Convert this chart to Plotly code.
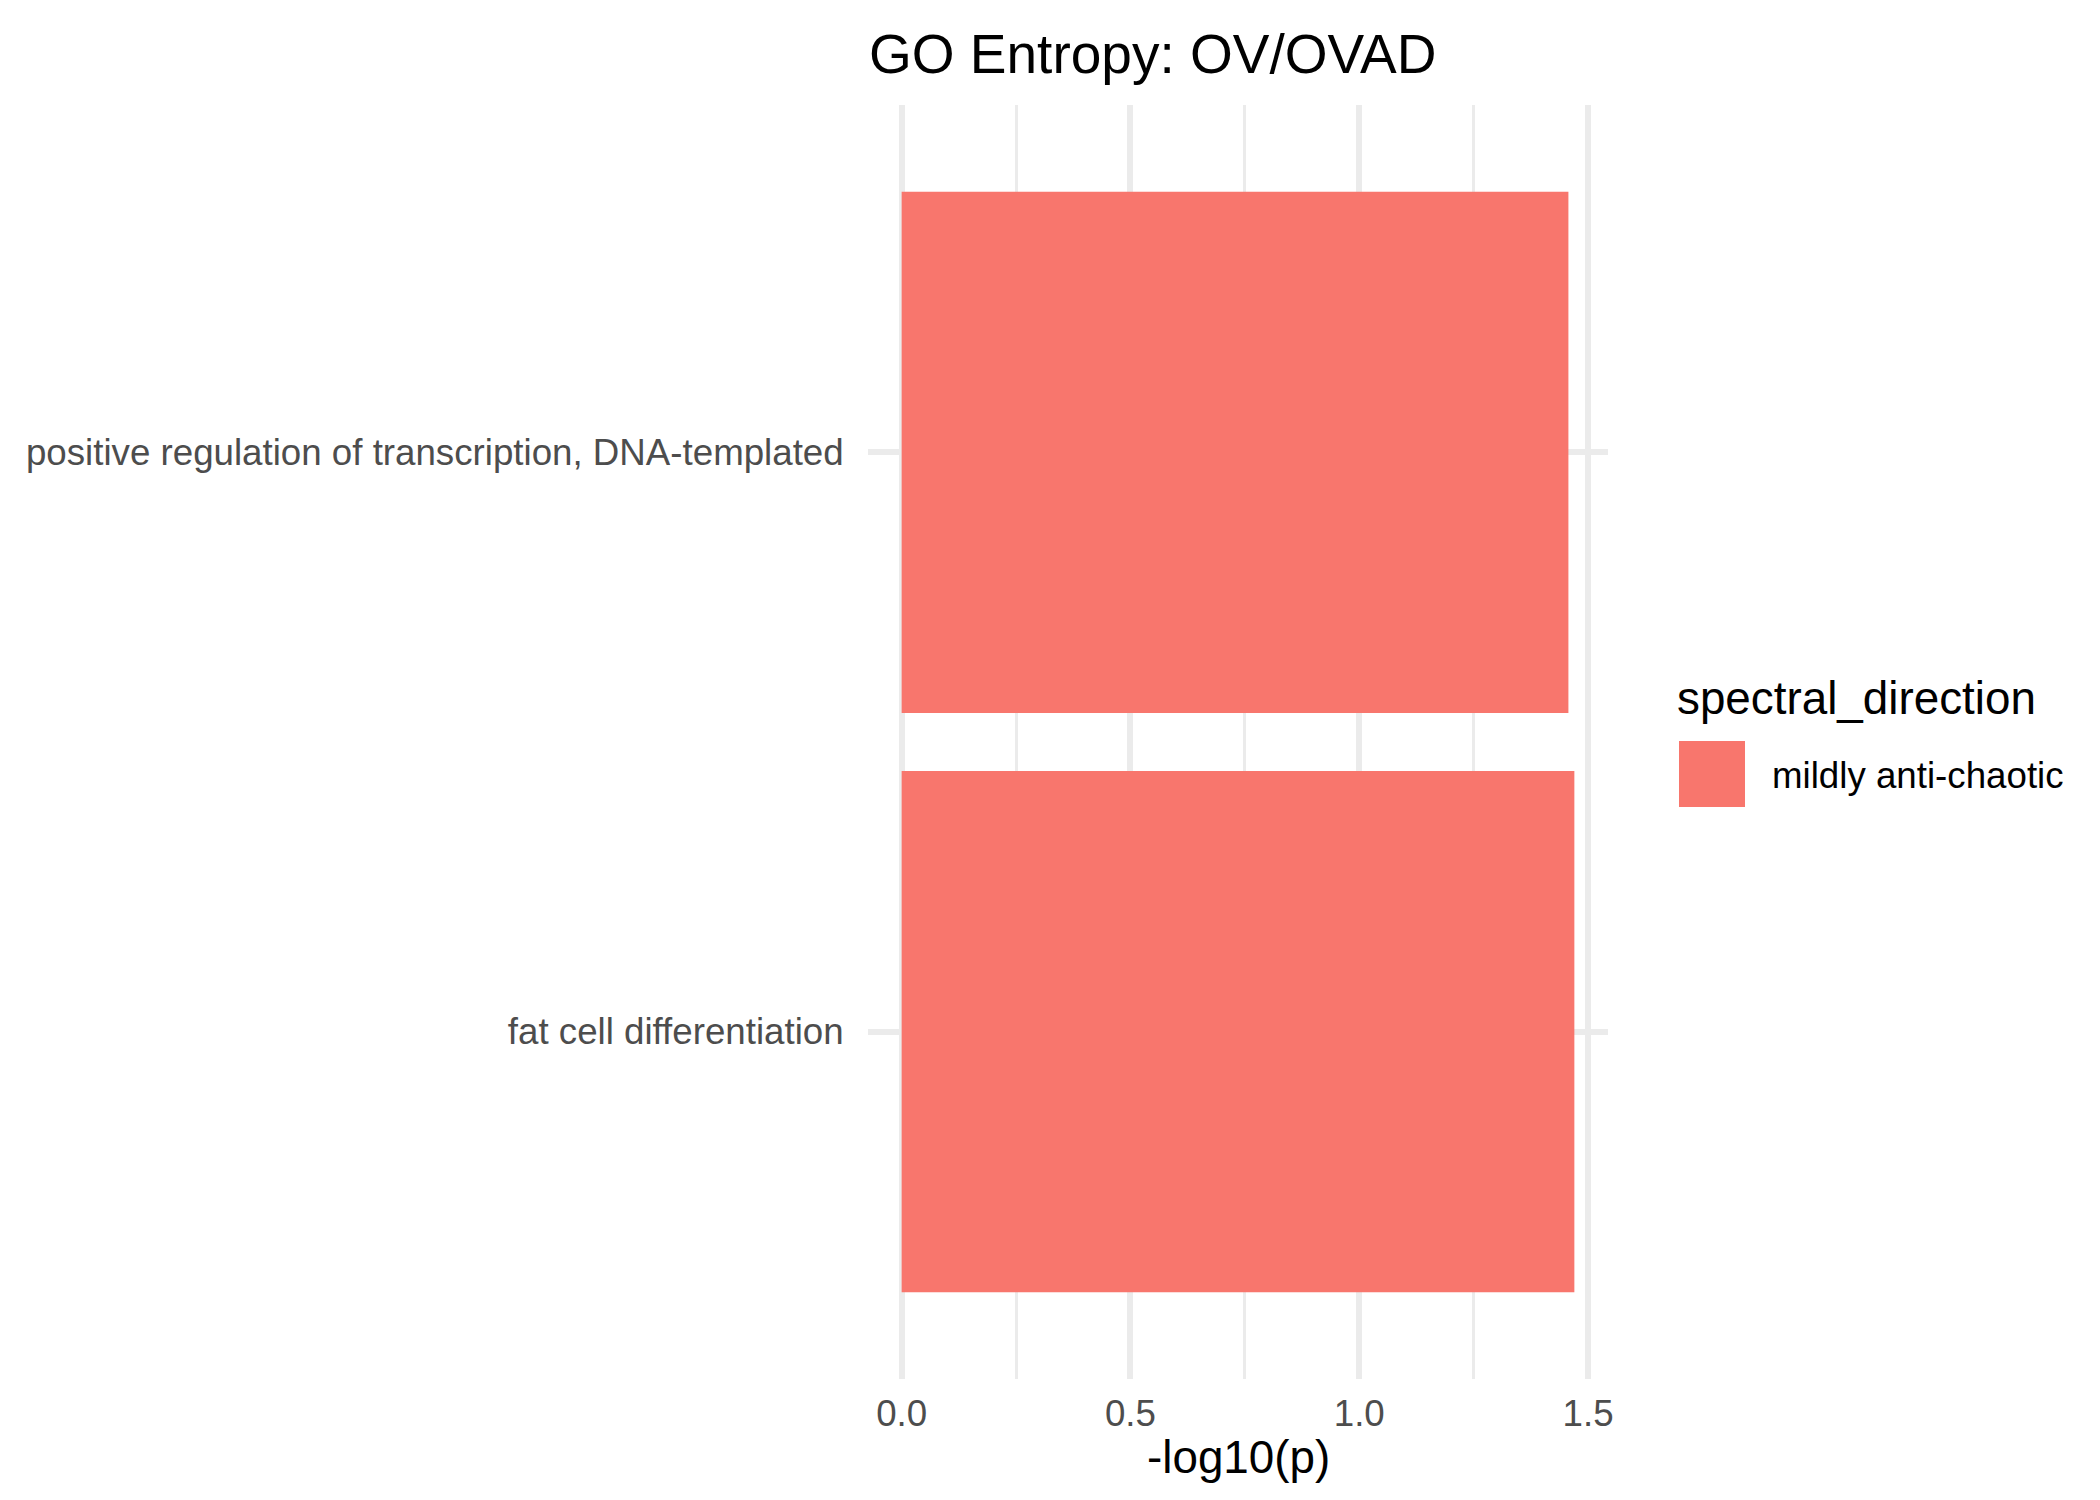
import plotly.graph_objects as go

# ---- data ----
terms = ["fat cell differentiation",
         "positive regulation of transcription, DNA-templated"]
neg_log10_p = [1.470, 1.457]
spectral_direction = ["mildly anti-chaotic", "mildly anti-chaotic"]
x_tick_vals = [0.0, 0.5, 1.0, 1.5]
x_tick_text = ["0.0", "0.5", "1.0", "1.5"]
title_text = "GO Entropy: OV/OVAD"
x_title = "-log10(p)"
legend_title = "spectral_direction"

BAR = "#F8766D"
GRID = "#EBEBEB"
FONT = "Liberation Sans, Arial, sans-serif"

W, H = 2100, 1500
L, R, T, B = 860, 500, 97, 129
pw, ph = W - L - R, H - T - B


def px(x):
    return (x - L) / pw


def py(y):
    return (H - B - y) / ph


fig = go.Figure()
fig.add_trace(go.Bar(
    x=neg_log10_p, y=terms, orientation="h",
    marker=dict(color=BAR, line=dict(width=0)),
    width=0.9, name=spectral_direction[0], showlegend=False,
))

xmax = max(neg_log10_p)
fig.update_layout(
    width=W, height=H,
    margin=dict(l=L, r=R, t=T, b=B, autoexpand=False),
    paper_bgcolor="white", plot_bgcolor="white",
    font=dict(family=FONT, color="black"),
    showlegend=False,
    bargap=0.1,
    xaxis=dict(
        range=[-0.05 * xmax, 1.05 * xmax],
        tickvals=x_tick_vals, ticktext=x_tick_text,
        tickfont=dict(size=36.7, color="#4D4D4D", family=FONT),
        showgrid=True, gridcolor=GRID, gridwidth=5.5,
        minor=dict(dtick=0.25, tick0=0, showgrid=True, gridcolor=GRID, gridwidth=2.8),
        zeroline=False, showline=False,
        ticks="outside", ticklen=2, tickcolor="rgba(0,0,0,0)",
    ),
    yaxis=dict(
        type="category", categoryorder="array", categoryarray=terms,
        range=[-0.6, len(terms) - 0.4],
        tickfont=dict(size=36.7, color="#4D4D4D", family=FONT),
        showgrid=True, gridcolor=GRID, gridwidth=5.5,
        zeroline=False, showline=False,
        ticks="outside", ticklen=16, tickcolor="rgba(0,0,0,0)",
    ),
)

# title
fig.add_annotation(text=title_text, x=px(1144), y=py(46), xref="paper", yref="paper",
                   xanchor="center", yanchor="middle", showarrow=False,
                   font=dict(size=55, color="black", family=FONT))
# x axis title
fig.add_annotation(text=x_title, x=0.5, y=py(1450), xref="paper", yref="paper",
                   xanchor="center", yanchor="middle", showarrow=False,
                   font=dict(size=45.8, color="black", family=FONT))

# legend (ggplot-style)
fig.add_annotation(text=legend_title, x=px(1667), y=py(690), xref="paper", yref="paper",
                   xanchor="left", yanchor="middle", showarrow=False,
                   font=dict(size=45.8, color="black", family=FONT))
fig.add_shape(type="rect", xref="paper", yref="paper",
              x0=px(1671), x1=px(1737), y0=py(799), y1=py(733),
              fillcolor=BAR, line=dict(width=0))
fig.add_annotation(text=spectral_direction[0], x=px(1762), y=py(767), xref="paper", yref="paper",
                   xanchor="left", yanchor="middle", showarrow=False,
                   font=dict(size=36.7, color="black", family=FONT))

fig.write_html("out.html")
